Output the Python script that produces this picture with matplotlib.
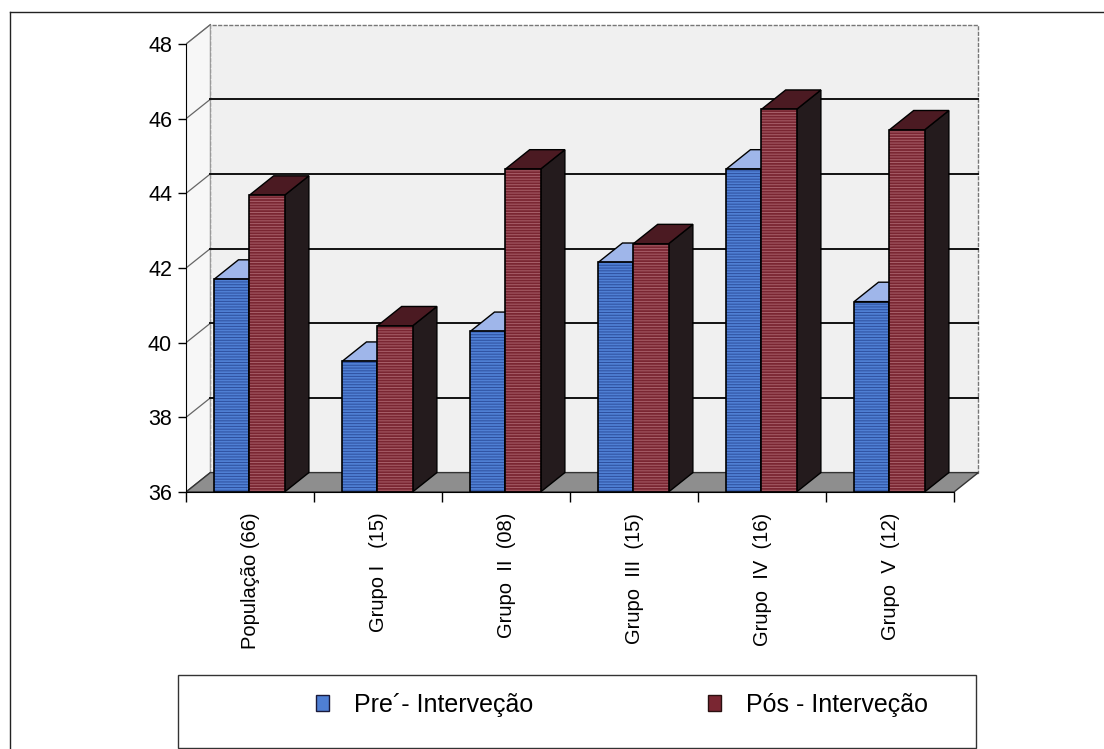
import matplotlib.pyplot as plt
from matplotlib.patches import Polygon, Rectangle, Patch
from matplotlib.lines import Line2D

plt.rcParams['font.family'] = ['Liberation Sans', 'DejaVu Sans']
plt.rcParams['hatch.linewidth'] = 0.7

categorias = ['População (66)', 'Grupo I   (15)', 'Grupo  II  (08)',
              'Grupo  III  (15)', 'Grupo  IV  (16)', 'Grupo  V  (12)']
pre_intervencao = [41.7, 39.5, 40.3, 42.15, 44.65, 41.1]
pos_intervencao = [43.95, 40.45, 44.65, 42.65, 46.25, 45.7]
series = ['Pre´- Interveção', 'Pós - Interveção']
y_ticks = [36, 38, 40, 42, 44, 46, 48]

# geometria do "3D" (profundidade em unidades de dados)
Y_MIN, Y_MAX = 36, 48
DX, DY = 0.19, 0.52
BAR_W = 0.275
OFFSET = 0.22

# cores: frente, riscas da textura, topo, lado
cores = {
    'pre': ('#4f7fd4', '#2d4f9e', '#9fb6ea', '#1d2c55'),
    'pos': ('#7a2632', '#a8606a', '#4b1a22', '#241b1d'),
}

W, H = 1104, 749
fig = plt.figure(figsize=(W / 100, H / 100), dpi=100)
ax = fig.add_axes([186 / W, (H - 492) / H, 814 / W, 477 / H])
ax.set_xlim(0, 814 / 128)
ax.set_ylim(Y_MIN, Y_MIN + 477 / 37.33)
n = len(categorias)

# paredes e chão
ax.add_patch(Rectangle((DX, Y_MIN + DY), n, Y_MAX - Y_MIN, facecolor='#f0f0f0',
                       edgecolor='#777777', lw=1.0, ls=(0, (3, 1)), zorder=0))
ax.add_patch(Polygon([(0, Y_MIN), (DX, Y_MIN + DY), (DX, Y_MAX + DY), (0, Y_MAX)],
                     closed=True, facecolor='#f7f7f7', edgecolor='#999999', lw=0.8, zorder=0))
for v in y_ticks:
    ax.plot([0, DX], [v, v + DY], color='#666666', lw=0.9, zorder=1)
    if Y_MIN < v < Y_MAX:
        ax.plot([DX, n + DX], [v + DY, v + DY], color='#111111', lw=1.4, zorder=1)
ax.add_patch(Polygon([(0, Y_MIN), (n, Y_MIN), (n + DX, Y_MIN + DY), (DX, Y_MIN + DY)],
                     closed=True, facecolor='#8e8e8e', edgecolor='#333333', lw=1.0, zorder=2))


def barra(x0, v, paleta, z):
    frente, risca, topo, lado = paleta
    face = [(x0, Y_MIN), (x0 + BAR_W, Y_MIN), (x0 + BAR_W, v), (x0, v)]
    side = [(x0 + BAR_W, Y_MIN), (x0 + BAR_W + DX, Y_MIN + DY),
            (x0 + BAR_W + DX, v + DY), (x0 + BAR_W, v)]
    top = [(x0, v), (x0 + BAR_W, v), (x0 + BAR_W + DX, v + DY), (x0 + DX, v + DY)]
    ax.add_patch(Polygon(side, closed=True, facecolor=lado, edgecolor='black', lw=1.0, zorder=z))
    ax.add_patch(Polygon(top, closed=True, facecolor=topo, edgecolor='black', lw=1.0, zorder=z))
    ax.add_patch(Polygon(face, closed=True, facecolor=frente, edgecolor=risca,
                         hatch='------', lw=0, zorder=z))
    ax.add_patch(Polygon(face, closed=True, facecolor='none', edgecolor='black', lw=1.2, zorder=z))


for i in range(n):
    barra(i + OFFSET, pre_intervencao[i], cores['pre'], 3 + 2 * i)
    barra(i + OFFSET + BAR_W, pos_intervencao[i], cores['pos'], 4 + 2 * i)

# eixos
for s in ('top', 'right'):
    ax.spines[s].set_visible(False)
ax.spines['left'].set_bounds(Y_MIN, Y_MAX)
ax.spines['bottom'].set_bounds(0, n)
ax.spines['left'].set_zorder(20)
ax.spines['bottom'].set_zorder(20)
ax.set_yticks(y_ticks)
ax.set_yticklabels([str(v) for v in y_ticks], fontsize=15.5)
ax.tick_params(axis='y', direction='out', length=6, width=1, pad=4)
ax.set_xticks(range(n + 1))
ax.set_xticklabels([])
ax.tick_params(axis='x', which='major', direction='out', length=7, width=1)
ax.set_xticks([i + 0.5 for i in range(n)], minor=True)
ax.set_xticklabels(categorias, minor=True, rotation=90, va='top', ha='center', fontsize=14.5)
ax.tick_params(axis='x', which='minor', length=0, pad=15)

# legenda
fig.add_artist(Rectangle((178 / W, 1 - 748 / H), (976 - 178) / W, (748 - 675) / H,
                         transform=fig.transFigure, facecolor='none', edgecolor='#333333', lw=1.0))
handles = [Patch(facecolor=cores['pre'][0], edgecolor='#1a1a3a'),
           Patch(facecolor=cores['pos'][0], edgecolor='#2a1010')]
fig.legend(handles, series, ncol=2, frameon=False, fontsize=18, loc='center',
           bbox_to_anchor=(622 / W, 1 - 705 / H), handlelength=0.5, handleheight=0.6,
           handletextpad=1.0, columnspacing=7.0)

# moldura
fig.add_artist(Line2D([10 / W, 1], [1 - 12 / H, 1 - 12 / H], transform=fig.transFigure,
                      color='#222222', lw=1.0))
fig.add_artist(Line2D([10 / W, 10 / W], [0, 1 - 12 / H], transform=fig.transFigure,
                      color='#222222', lw=1.0))

fig.savefig('out.png', dpi=100)
